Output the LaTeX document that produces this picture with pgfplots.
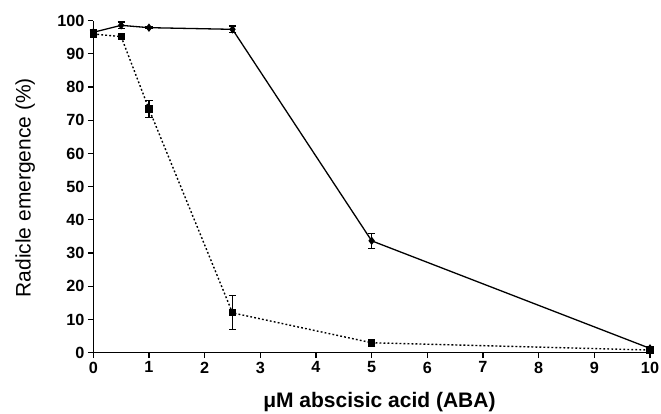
\documentclass[border=0pt]{standalone}
\usepackage{pgfplots}
\pgfplotsset{compat=1.18}
\usepackage{fontspec}
\setmainfont{Liberation Sans}
\begin{document}
\begin{tikzpicture}
\begin{axis}[name=ax, scale only axis, width=556.7bp, height=332bp,
  xmin=0, xmax=10, ymin=0, ymax=100,
  axis x line*=bottom, axis y line*=left,
  axis line style={-, line width=1.3bp, black},
  xtick={0,1,...,10}, ytick={0,10,...,100},
  tick align=outside, major tick length=5.5bp,
  tick style={black, line width=1.2bp},
  /pgf/number format/assume math mode=true,
  tick label style={font=\fontsize{16.2bp}{19bp}\selectfont\bfseries},
  xlabel={μM abscisic acid (ABA)},
  ylabel={Radicle emergence (\%)},
  xlabel style={at={([yshift=-49bp]rel axis cs:0.514,0)}, anchor=center, font=\fontsize{21bp}{25bp}\selectfont\bfseries},
  ylabel style={at={([xshift=-68bp]rel axis cs:0,0.497)}, anchor=center, rotate=0, font=\fontsize{21bp}{25bp}\selectfont},
  clip=false]
\addplot[black, line width=1.3bp, mark=diamond*, mark size=3.2bp,
  error bars/.cd, y dir=both, y explicit,
  error bar style={line width=1.1bp, solid},
  error mark options={rotate=90, mark size=3.6bp, line width=1.1bp}]
  table[x=x, y=y, y error=e] {
x y e
0 96.5 0.8
0.5 98.6 1.0
1 97.9 0.3
2.5 97.4 1.0
5 33.7 2.3
10 1.3 0.5
};
\addplot[black, line width=1.4bp, dash pattern=on 1.8bp off 2.2bp, mark=square*, mark size=2.9bp, mark options={solid},
  error bars/.cd, y dir=both, y explicit,
  error bar style={line width=1.1bp, solid},
  error mark options={rotate=90, mark size=3.6bp, line width=1.1bp, solid}]
  table[x=x, y=y, y error=e] {
x y e
0 96.0 1.0
0.5 95.2 0.6
1 73.4 2.6
2.5 12.0 5.1
5 3.0 1.0
10 0.8 0.5
};
\end{axis}
\pgfresetboundingbox
\path ([shift={(-93.3bp,-61.3bp)}]ax.south west) rectangle ([shift={(11bp,20.7bp)}]ax.north east);
\end{tikzpicture}
\end{document}
